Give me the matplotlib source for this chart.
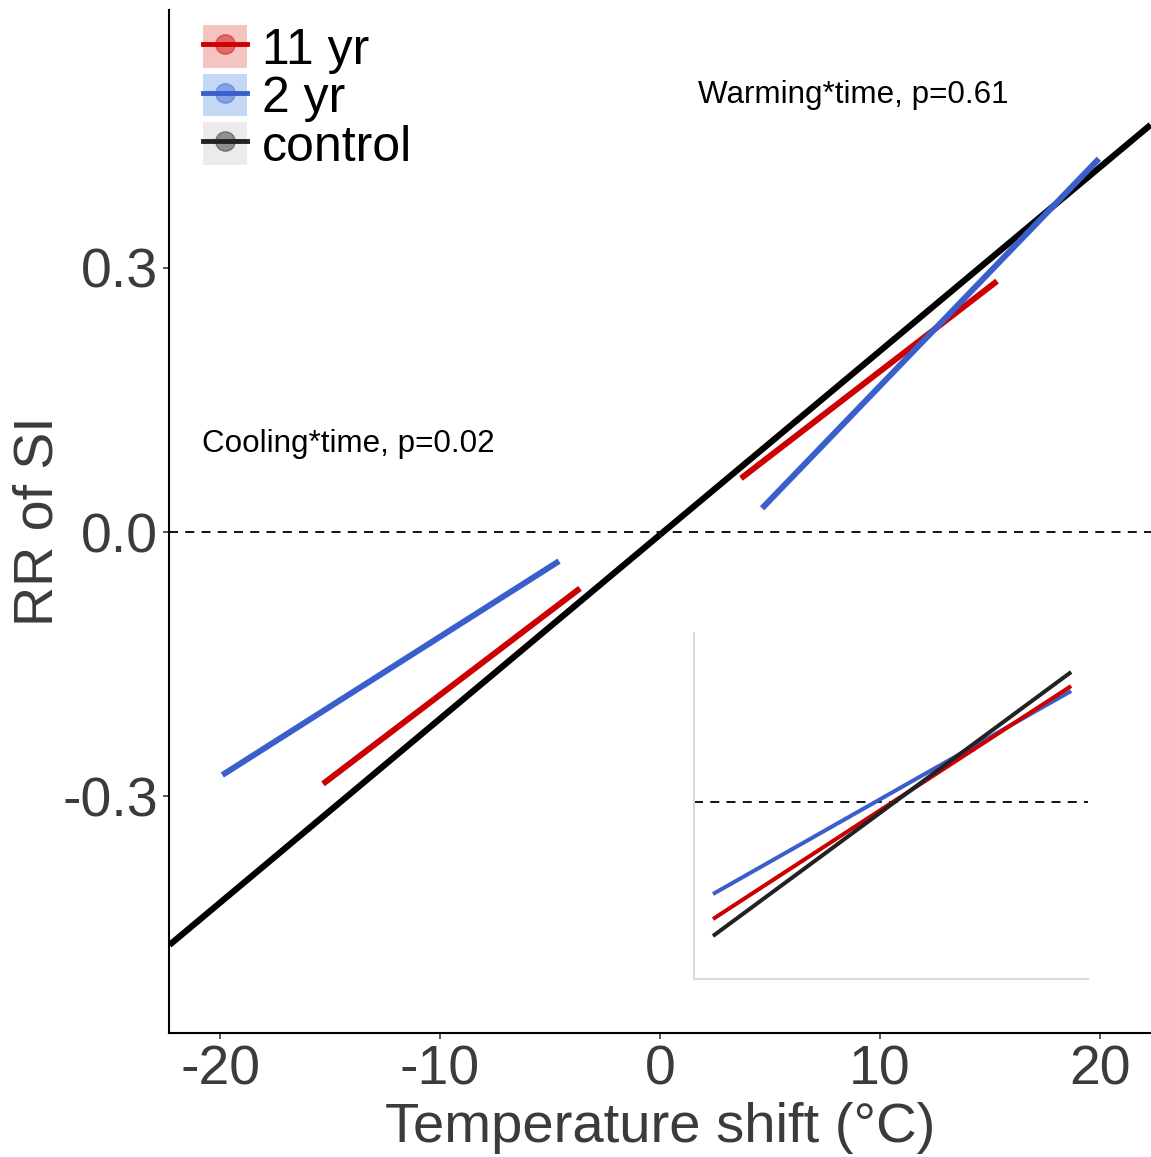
import matplotlib
matplotlib.use("Agg")
import matplotlib.pyplot as plt
from matplotlib.patches import Patch
from matplotlib.lines import Line2D
from matplotlib.legend_handler import HandlerTuple

plt.rcParams['font.family'] = ['Liberation Sans', 'DejaVu Sans']

# fitted lines (x = temperature shift, y = RR of SI)
ctrl_cool_x = [-22.3, 0.0]
ctrl_cool_y = [-0.469, -0.003]
ctrl_warm_x = [0.0, 22.3]
ctrl_warm_y = [-0.003, 0.4625]

yr11_cool_x = [-15.32, -3.64]
yr11_cool_y = [-0.286, -0.064]
yr11_warm_x = [3.68, 15.32]
yr11_warm_y = [0.061, 0.285]

yr2_cool_x = [-19.9, -4.59]
yr2_cool_y = [-0.276, -0.033]
yr2_warm_x = [4.64, 19.95]
yr2_warm_y = [0.027, 0.424]

# inset (no scale shown)
inset_x = [0.0, 1.0]
inset_ctrl = [-0.134, 0.130]
inset_11 = [-0.117, 0.116]
inset_2 = [-0.092, 0.111]

xticks = [-20, -10, 0, 10, 20]
yticks = [-0.3, 0.0, 0.3]

red = '#CC0000'
blue = '#3A5FCD'
W, H = 1151, 1157

fig = plt.figure(figsize=(W / 100, H / 100), dpi=100)
ax = fig.add_axes([169.5 / W, 1 - 1033 / H, (W - 169.5) / W, 1023 / H])

ax.axhline(0, color='black', lw=1.3, ls=(0, (5, 4)))
for xs, ys in [(ctrl_cool_x, ctrl_cool_y), (ctrl_warm_x, ctrl_warm_y)]:
    ax.plot(xs, ys, color='black', lw=4.5, solid_capstyle='butt')
for xs, ys in [(yr11_cool_x, yr11_cool_y), (yr11_warm_x, yr11_warm_y)]:
    ax.plot(xs, ys, color=red, lw=4.3, solid_capstyle='butt')
for xs, ys in [(yr2_cool_x, yr2_cool_y), (yr2_warm_x, yr2_warm_y)]:
    ax.plot(xs, ys, color=blue, lw=4.3, solid_capstyle='butt')

ax.set_xlim(-22.3, 22.32)
ax.set_ylim(-0.569, 0.593)
ax.set_xticks(xticks)
ax.set_xticklabels([str(t) for t in xticks])
ax.set_yticks(yticks)
ax.set_yticklabels(['%.1f' % t for t in yticks])
ax.tick_params(labelsize=40, labelcolor='#3b3b3b', color='#3b3b3b',
               length=4.5, width=1.2, pad=4)
for s in ['top', 'right']:
    ax.spines[s].set_visible(False)
for s in ['left', 'bottom']:
    ax.spines[s].set_linewidth(1.5)
ax.set_xlabel('Temperature shift (°C)', fontsize=40.5, color='#3b3b3b', labelpad=4)
ax.set_ylabel('RR of SI', fontsize=40, color='#3b3b3b', labelpad=-2)

ax.text(1.72, 0.496, 'Warming*time, p=0.61', fontsize=22.6, va='center')
ax.text(-20.8, 0.1, 'Cooling*time, p=0.02', fontsize=22.6, va='center')

handles = []
for c, bg in [(red, '#F5C4C0'), (blue, '#C3D8F5'), ('#222222', '#EBEBEB')]:
    p = Patch(facecolor=bg, edgecolor='none')
    m = Line2D([], [], ls='none', marker='o', markersize=14, alpha=0.45,
               markerfacecolor=c, markeredgecolor=c)
    l = Line2D([], [], color=c, lw=3.5)
    handles.append((p, m, l))
leg = ax.legend(handles, ['11 yr', '2 yr', 'control'],
                handler_map={tuple: HandlerTuple(ndivide=1, pad=0)},
                loc='upper left', bbox_to_anchor=(0.019, 1.0), frameon=False,
                fontsize=36, handlelength=0.88, handleheight=0.94,
                labelspacing=0.0, handletextpad=0.3, borderaxespad=0.2,
                borderpad=0.1)

ins = fig.add_axes([694 / W, 1 - 979 / H, 394 / W, 346 / H])
ins.axhline(0, color='black', lw=1.3, ls=(0, (5, 4)))
ins.plot(inset_x, inset_2, color=blue, lw=2.9, solid_capstyle='butt')
ins.plot(inset_x, inset_11, color=red, lw=2.9, solid_capstyle='butt')
ins.plot(inset_x, inset_ctrl, color='#222222', lw=2.9, solid_capstyle='butt')
ins.set_xlim(-0.053, 1.047)
ins.set_ylim(-0.177, 0.169)
ins.set_xticks([])
ins.set_yticks([])
for s in ['top', 'right']:
    ins.spines[s].set_visible(False)
for s in ['left', 'bottom']:
    ins.spines[s].set_color('#D9D9D9')
    ins.spines[s].set_linewidth(1.5)
ins.patch.set_alpha(0)

fig.savefig('out.png', dpi=100)
